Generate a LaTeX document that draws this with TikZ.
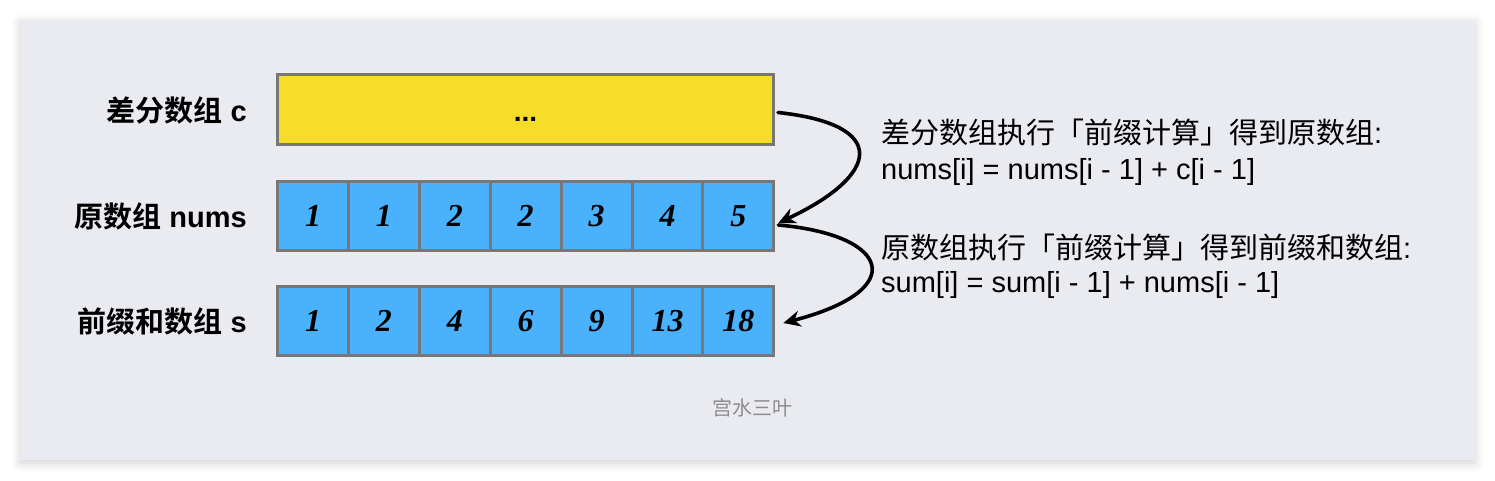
\documentclass[tikz,border=0pt]{standalone}
\usepackage{fontspec}
\setmainfont{Liberation Sans}
\newfontfamily\cjk{Noto Sans CJK SC}[BoldFont={Noto Sans CJK SC Bold}]
\newfontfamily\numfont{Liberation Serif}
\usetikzlibrary{arrows.meta,shadows.blur}
\definecolor{panelbg}{HTML}{EAEBF0}
\definecolor{cellgray}{HTML}{777777}
\definecolor{cellblue}{HTML}{4AB1FC}
\definecolor{diffyellow}{HTML}{F7DD29}
\definecolor{markgray}{HTML}{8C8C8C}
\newcommand{\zh}[1]{{\cjk #1}}

\begin{document}
\begin{tikzpicture}[x=1pt, y=-1pt,
  cell/.style={draw=cellgray, line width=3pt, fill=cellblue, minimum width=70.9pt, minimum height=69pt, inner sep=0pt, font=\fontsize{32}{32}\numfont\bfseries\itshape},
  rowlabel/.style={anchor=east, inner sep=0pt, font=\fontsize{29}{29}\selectfont\bfseries},
  note/.style={anchor=west, inner sep=0pt, font=\fontsize{29}{29}\selectfont},
  flow/.style={line width=3.6pt, line cap=round, -{Stealth[length=17pt, width=16pt]}}]

  \useasboundingbox (0,0) rectangle (1495,480);
  \fill[panelbg, blur shadow={shadow xshift=0pt, shadow yshift=-3pt, shadow blur radius=9pt, shadow opacity=18}] (20,20) rectangle (1475,460);

  \node[draw=cellgray, line width=3pt, fill=diffyellow, minimum width=496pt, minimum height=70pt, text height=24pt, text depth=0pt, font=\fontsize{28}{28}\selectfont\bfseries] (diff) at (525.5,109.5) {...};

  \foreach \v [count=\i] in {1,1,2,2,3,4,5}
    \node[cell] (n\i) at ({313+70.9*(\i-1)},216) {\v};
  \foreach \v [count=\i] in {1,2,4,6,9,13,18}
    \node[cell] (s\i) at ({313+70.9*(\i-1)},321) {\v};

  \node[rowlabel] (difflabel) at (247,110) {\zh{差分数组} c};
  \node[rowlabel] (numslabel) at (247,216) {\zh{原数组} nums};
  \node[rowlabel] (sumlabel) at (247,321) {\zh{前缀和数组} s};

  \draw[flow] ([xshift=3pt,yshift=-3pt]diff.east) .. controls +(112,12) and +(102,-48) .. ([xshift=3pt,yshift=-7pt]n7.east);
  \draw[flow] ([xshift=3pt,yshift=-9pt]n7.east) .. controls +(112,10) and +(127,-33) .. ([xshift=8pt,yshift=-2pt]s7.east);

  \node[note] (rule1) at (881,132) {\zh{差分数组执行「前缀计算」得到原数组}:};
  \node[note] (rule1eq) at (881,172) {nums[i] = nums[i - 1] + c[i - 1]};
  \node[note] (rule2) at (881,247) {\zh{原数组执行「前缀计算」得到前缀和数组}:};
  \node[note] (rule2eq) at (881,285) {sum[i] = sum[i - 1] + nums[i - 1]};

  \node[font=\fontsize{20}{20}\selectfont, text=markgray] (mark) at (752,408) {\zh{宫水三叶}};
\end{tikzpicture}
\end{document}
